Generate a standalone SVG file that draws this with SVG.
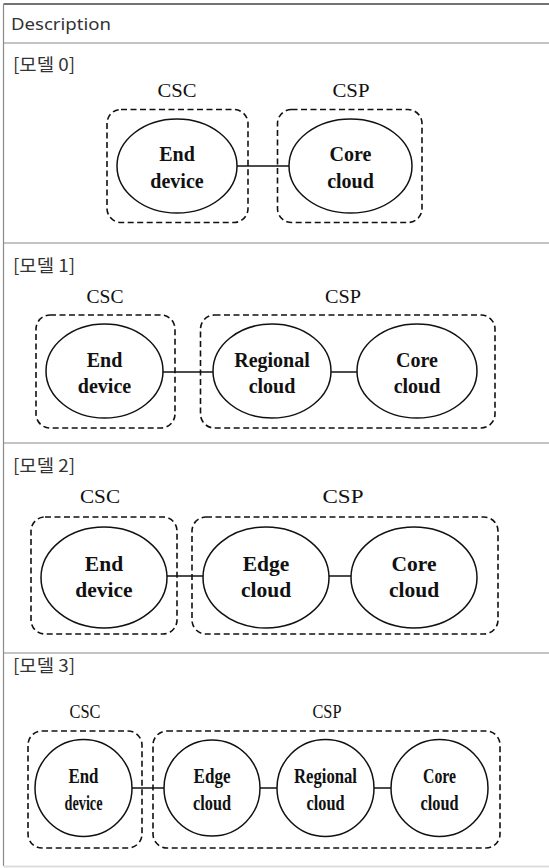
<svg xmlns="http://www.w3.org/2000/svg" width="549" height="868" viewBox="0 0 549 868">
  <style>
    .grid { stroke: #8a8a8a; stroke-width: 1.2; fill: none; }
    .head { font-family: "Noto Sans", "Liberation Sans", sans-serif; font-size: 16px; fill: #333; }
    .title { font-family: "Noto Sans CJK KR", "Noto Sans", sans-serif; font-size: 17.5px; fill: #333; }
    .group { fill: none; stroke: #111; stroke-width: 1.6; stroke-dasharray: 6 3.5; }
    .node { fill: #fff; stroke: #111; stroke-width: 1.5; }
    .link { stroke: #111; stroke-width: 1.5; fill: none; }
    .cap { font-family: "Liberation Serif", "Times New Roman", serif; font-size: 19px; fill: #111; text-anchor: middle; }
    .lbl { font-family: "Liberation Serif", "Times New Roman", serif; font-size: 20px; font-weight: bold; fill: #111; text-anchor: middle; }
  </style>

  <rect width="549" height="868" fill="#fff"/>

  <!-- table frame -->
  <g id="table">
    <line x1="3.5" y1="4" x2="549" y2="4" stroke="#444" stroke-width="1.5"/>
    <line x1="3.5" y1="4" x2="3.5" y2="866" class="grid"/>
    <line x1="3.5" y1="43" x2="549" y2="43" class="grid"/>
    <line x1="3.5" y1="243" x2="549" y2="243" class="grid"/>
    <line x1="3.5" y1="443" x2="549" y2="443" class="grid"/>
    <line x1="3.5" y1="653" x2="549" y2="653" class="grid"/>
    <line x1="3.5" y1="866.5" x2="549" y2="866.5" stroke="#ddd" stroke-width="2"/>
    <text class="head" x="11" y="30" textLength="100" lengthAdjust="spacingAndGlyphs">Description</text>
    <text class="title" x="13" y="71" textLength="62" lengthAdjust="spacingAndGlyphs">[모델 0]</text>
    <text class="title" x="13" y="272" textLength="62" lengthAdjust="spacingAndGlyphs">[모델 1]</text>
    <text class="title" x="13" y="472" textLength="62" lengthAdjust="spacingAndGlyphs">[모델 2]</text>
    <text class="title" x="13" y="672" textLength="62" lengthAdjust="spacingAndGlyphs">[모델 3]</text>
  </g>

  <!-- model 0 -->
  <g id="m0-csc">
    <text class="cap" x="177" y="97" textLength="39" lengthAdjust="spacingAndGlyphs">CSC</text>
    <rect class="group" x="107" y="109.5" width="141" height="113" rx="14"/>
  </g>
  <g id="m0-csp">
    <text class="cap" x="351" y="97" textLength="37" lengthAdjust="spacingAndGlyphs">CSP</text>
    <rect class="group" x="277.5" y="109.5" width="144.5" height="113" rx="14"/>
  </g>
  <g id="m0-connectors">
    <line class="link" x1="237" y1="166" x2="289" y2="166"/>
  </g>
  <g id="m0-end">
    <ellipse class="node" cx="177" cy="166" rx="60" ry="47"/>
    <text class="lbl" x="177" y="161">End</text>
    <text class="lbl" x="177" y="188">device</text>
  </g>
  <g id="m0-core">
    <ellipse class="node" cx="350.5" cy="166" rx="61.5" ry="47"/>
    <text class="lbl" x="350.5" y="161">Core</text>
    <text class="lbl" x="350.5" y="188">cloud</text>
  </g>

  <!-- model 1 -->
  <g id="m1-csc">
    <text class="cap" x="105" y="303" textLength="37" lengthAdjust="spacingAndGlyphs">CSC</text>
    <rect class="group" x="36" y="315" width="139" height="113" rx="14"/>
  </g>
  <g id="m1-csp">
    <text class="cap" x="343" y="303" textLength="36" lengthAdjust="spacingAndGlyphs">CSP</text>
    <rect class="group" x="200.5" y="315" width="294.5" height="113" rx="14"/>
  </g>
  <g id="m1-connectors">
    <line class="link" x1="163" y1="372" x2="213" y2="372"/>
    <line class="link" x1="331" y1="372" x2="358" y2="372"/>
  </g>
  <g id="m1-end">
    <ellipse class="node" cx="104.5" cy="371" rx="58.5" ry="47"/>
    <text class="lbl" x="104.5" y="367">End</text>
    <text class="lbl" x="104.5" y="393">device</text>
  </g>
  <g id="m1-regional">
    <ellipse class="node" cx="272" cy="371" rx="59" ry="47"/>
    <text class="lbl" x="272" y="367">Regional</text>
    <text class="lbl" x="272" y="393">cloud</text>
  </g>
  <g id="m1-core">
    <ellipse class="node" cx="417" cy="371" rx="60" ry="47"/>
    <text class="lbl" x="417" y="367">Core</text>
    <text class="lbl" x="417" y="393">cloud</text>
  </g>

  <!-- model 2 -->
  <g id="m2-csc">
    <text class="cap" x="100" y="503" textLength="40" lengthAdjust="spacingAndGlyphs">CSC</text>
    <rect class="group" x="31" y="517" width="146" height="117" rx="14"/>
  </g>
  <g id="m2-csp">
    <text class="cap" x="343" y="503" textLength="41" lengthAdjust="spacingAndGlyphs">CSP</text>
    <rect class="group" x="192" y="517" width="306" height="117" rx="14"/>
  </g>
  <g id="m2-connectors">
    <line class="link" x1="167" y1="576" x2="203" y2="576"/>
    <line class="link" x1="329" y1="576" x2="351" y2="576"/>
  </g>
  <g id="m2-end">
    <ellipse class="node" cx="104" cy="577.5" rx="63" ry="50.5"/>
    <text class="lbl" x="104" y="571" style="font-size:21.5px">End</text>
    <text class="lbl" x="104" y="597" style="font-size:21.5px">device</text>
  </g>
  <g id="m2-edge">
    <ellipse class="node" cx="266" cy="577.5" rx="63" ry="50.5"/>
    <text class="lbl" x="266" y="571" style="font-size:21.5px">Edge</text>
    <text class="lbl" x="266" y="597" style="font-size:21.5px">cloud</text>
  </g>
  <g id="m2-core">
    <ellipse class="node" cx="414" cy="577.5" rx="63" ry="50.5"/>
    <text class="lbl" x="414" y="571" style="font-size:21.5px">Core</text>
    <text class="lbl" x="414" y="597" style="font-size:21.5px">cloud</text>
  </g>

  <!-- model 3 -->
  <g id="m3-csc">
    <text class="cap" x="85" y="718" textLength="31" lengthAdjust="spacingAndGlyphs">CSC</text>
    <rect class="group" x="28" y="731" width="114" height="117" rx="14"/>
  </g>
  <g id="m3-csp">
    <text class="cap" x="327" y="718" textLength="29" lengthAdjust="spacingAndGlyphs">CSP</text>
    <rect class="group" x="153" y="731" width="347" height="117" rx="14"/>
  </g>
  <g id="m3-connectors">
    <line class="link" x1="132" y1="788" x2="164" y2="788"/>
    <line class="link" x1="260" y1="788" x2="277" y2="788"/>
    <line class="link" x1="374" y1="788" x2="391" y2="788"/>
  </g>
  <g id="m3-end">
    <circle class="node" cx="83.5" cy="788" r="48.5"/>
    <text class="lbl" x="83.5" y="783" style="font-size:21px" textLength="30" lengthAdjust="spacingAndGlyphs">End</text>
    <text class="lbl" x="83.5" y="810" style="font-size:21px" textLength="38" lengthAdjust="spacingAndGlyphs">device</text>
  </g>
  <g id="m3-edge">
    <circle class="node" cx="212" cy="788" r="48"/>
    <text class="lbl" x="212" y="783" style="font-size:21px" textLength="37" lengthAdjust="spacingAndGlyphs">Edge</text>
    <text class="lbl" x="212" y="810" style="font-size:21px" textLength="38" lengthAdjust="spacingAndGlyphs">cloud</text>
  </g>
  <g id="m3-regional">
    <circle class="node" cx="325.5" cy="788" r="48.5"/>
    <text class="lbl" x="325.5" y="783" style="font-size:21px" textLength="63" lengthAdjust="spacingAndGlyphs">Regional</text>
    <text class="lbl" x="325.5" y="810" style="font-size:21px" textLength="38" lengthAdjust="spacingAndGlyphs">cloud</text>
  </g>
  <g id="m3-core">
    <circle class="node" cx="439.5" cy="788" r="48.5"/>
    <text class="lbl" x="439.5" y="783" style="font-size:21px" textLength="33" lengthAdjust="spacingAndGlyphs">Core</text>
    <text class="lbl" x="439.5" y="810" style="font-size:21px" textLength="38" lengthAdjust="spacingAndGlyphs">cloud</text>
  </g>
</svg>
